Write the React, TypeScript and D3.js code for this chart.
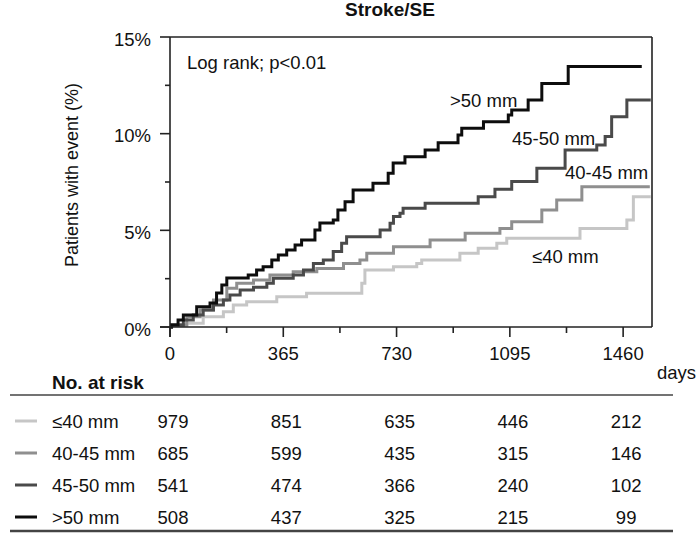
import React from "react";
import * as d3 from "d3";

const groups = ["≤40 mm", "40-45 mm", "45-50 mm", ">50 mm"];
const groupColors = ["#c6c6c6", "#8f8f8f", "#4a4a4a", "#0d0d0d"];

const le40Days = [0, 5, 54, 107, 172, 204, 247, 344, 440, 618, 628, 720, 795, 811, 934, 993, 1053, 1085, 1321, 1472, 1493, 1549];
const le40Pct = [0, 0.1, 0.19, 0.53, 0.79, 1.14, 1.31, 1.57, 1.74, 2.26, 2.95, 3.12, 3.29, 3.47, 3.81, 4.07, 4.33, 4.59, 5.1, 5.53, 6.74, 6.74];

const g4045Days = [0, 5, 54, 97, 140, 183, 215, 269, 322, 397, 473, 559, 612, 634, 720, 838, 951, 1063, 1101, 1198, 1246, 1327, 1546];
const g4045Pct = [0, 0.1, 0.53, 0.88, 1.4, 2.0, 2.26, 2.43, 2.69, 2.86, 3.03, 3.29, 3.47, 3.81, 4.15, 4.5, 4.85, 5.1, 5.45, 6.05, 6.57, 7.26, 7.26];

const g4550Days = [0, 5, 43, 75, 107, 140, 172, 193, 226, 269, 312, 333, 397, 430, 462, 494, 526, 553, 569, 677, 709, 720, 741, 751, 822, 993, 1047, 1101, 1182, 1273, 1375, 1402, 1423, 1472, 1549];
const g4550Pct = [0, 0.1, 0.36, 0.62, 0.88, 1.14, 1.4, 1.66, 1.91, 2.05, 2.26, 2.52, 2.69, 2.95, 3.29, 3.47, 3.9, 4.33, 4.67, 5.02, 5.36, 5.71, 5.88, 6.14, 6.4, 6.74, 7.12, 7.52, 8.21, 9.16, 9.42, 9.85, 10.88, 11.74, 11.74];

const gt50Days = [0, 5, 26, 43, 86, 129, 150, 167, 183, 252, 279, 300, 328, 349, 376, 403, 424, 467, 483, 526, 541, 564, 590, 654, 703, 719, 757, 822, 864, 928, 940, 1010, 1090, 1101, 1154, 1198, 1283, 1520];
const gt50Pct = [0, 0.1, 0.36, 0.62, 1.05, 1.24, 1.76, 2.17, 2.53, 2.69, 2.95, 3.12, 3.47, 3.72, 3.98, 4.24, 4.5, 5.02, 5.38, 5.53, 6.05, 6.48, 7.09, 7.43, 7.95, 8.48, 8.81, 9.16, 9.53, 9.93, 10.28, 10.62, 10.97, 11.23, 11.74, 12.6, 13.47, 13.47];

const xTicks = [0, 365, 730, 1095, 1460];
const xMinorTicks = [182.5, 547.5, 912.5, 1277.5];
const yTicks = [0, 5, 10, 15];
const yMinorTicks = [2.5, 7.5, 12.5];

const riskDays = [0, 365, 730, 1095, 1460];
const riskLe40 = [979, 851, 635, 446, 212];
const risk4045 = [685, 599, 435, 315, 146];
const risk4550 = [541, 474, 366, 240, 102];
const riskGt50 = [508, 437, 325, 215, 99];

const title = "Stroke/SE";
const yLabel = "Patients with event (%)";
const statText = "Log rank; p<0.01";

export default function App() {
  const W = 697, H = 533;
  const left = 170, right = 652, top = 37, bottom = 327;
  const x = d3.scaleLinear().domain([0, 1553]).range([left, right]);
  const y = d3.scaleLinear().domain([0, 15]).range([bottom, top]);
  const line = d3.line<[number, number]>().x(d => x(d[0])).y(d => y(d[1])).curve(d3.curveStepAfter);

  const series = [
    { days: le40Days, pct: le40Pct },
    { days: g4045Days, pct: g4045Pct },
    { days: g4550Days, pct: g4550Pct },
    { days: gt50Days, pct: gt50Pct },
  ];
  const risks = [riskLe40, risk4045, risk4550, riskGt50];
  const labelPos = [
    { x: 532, y: 263 },
    { x: 565, y: 179 },
    { x: 512, y: 145 },
    { x: 450, y: 107 },
  ];
  const font = "Liberation Sans, Arial, Helvetica, sans-serif";
  const fs = 18.5;
  const rowY = (i: number) => 421 + i * 32;

  return (
    <svg width={W} height={H} style={{ position: "absolute", left: 0, top: 0, background: "#fff" }} fontFamily={font}>
      <rect x={0} y={0} width={W} height={H} fill="#fff" />
      <text x={390} y={16} textAnchor="middle" fontSize={19} fontWeight="bold" fill="#111">{title}</text>

      {series.map((s, i) => {
        const pts = s.days.map((d, j) => [d, s.pct[j]] as [number, number]);
        return <path key={i} d={line(pts) || ""} fill="none" stroke={groupColors[i]} strokeWidth={3} strokeLinejoin="miter" />;
      })}

      <g stroke="#222" strokeWidth={1.6} fill="none">
        <line x1={left} y1={top} x2={right} y2={top} />
        <line x1={right} y1={top} x2={right} y2={bottom} />
        <line x1={left} y1={top} x2={left} y2={bottom + 10} />
        <line x1={left - 10} y1={bottom} x2={right} y2={bottom} />
      </g>
      {yTicks.map(t => (
        <g key={"y" + t}>
          <line x1={left - 10} x2={left} y1={y(t)} y2={y(t)} stroke="#222" strokeWidth={1.6} />
          <text x={151} y={y(t) + 8.5} textAnchor="end" fontSize={fs} fill="#111">{t + "%"}</text>
        </g>
      ))}
      {yMinorTicks.map(t => (
        <line key={"ym" + t} x1={left - 5} x2={left} y1={y(t)} y2={y(t)} stroke="#222" strokeWidth={1.6} />
      ))}
      {xTicks.map(t => (
        <g key={"x" + t}>
          <line x1={x(t)} x2={x(t)} y1={bottom} y2={bottom + 10} stroke="#222" strokeWidth={1.6} />
          <text x={x(t)} y={360} textAnchor="middle" fontSize={fs} fill="#111">{t}</text>
        </g>
      ))}
      {xMinorTicks.map(t => (
        <line key={"xm" + t} x1={x(t)} x2={x(t)} y1={bottom} y2={bottom + 6} stroke="#222" strokeWidth={1.6} />
      ))}
      <text x={657} y={379} fontSize={fs} fill="#111">days</text>

      <text transform={`translate(78,175) rotate(-90)`} textAnchor="middle" fontSize={18} fill="#111">{yLabel}</text>
      <text x={187} y={69} fontSize={fs} fill="#111">{statText}</text>

      {groups.map((g, i) => (
        <text key={"lab" + i} x={labelPos[i].x} y={labelPos[i].y} fontSize={fs} fill="#111">{g}</text>
      ))}

      <text x={52} y={389} fontSize={19} fontWeight="bold" fill="#111">No. at risk</text>
      <line x1={10} x2={673} y1={395} y2={395} stroke="#444" strokeWidth={1.5} />
      {groups.map((g, i) => (
        <g key={"row" + i}>
          <line x1={15} x2={37} y1={rowY(i)} y2={rowY(i)} stroke={groupColors[i]} strokeWidth={3} />
          <text x={52} y={rowY(i) + 7} fontSize={fs} fill="#111">{g}</text>
          {risks[i].map((v, j) => (
            <text key={j} x={x(riskDays[j]) + 3} y={rowY(i) + 7} textAnchor="middle" fontSize={fs} fill="#111">{v}</text>
          ))}
        </g>
      ))}
      <line x1={10} x2={673} y1={531} y2={531} stroke="#444" strokeWidth={2.5} />
    </svg>
  );
}
